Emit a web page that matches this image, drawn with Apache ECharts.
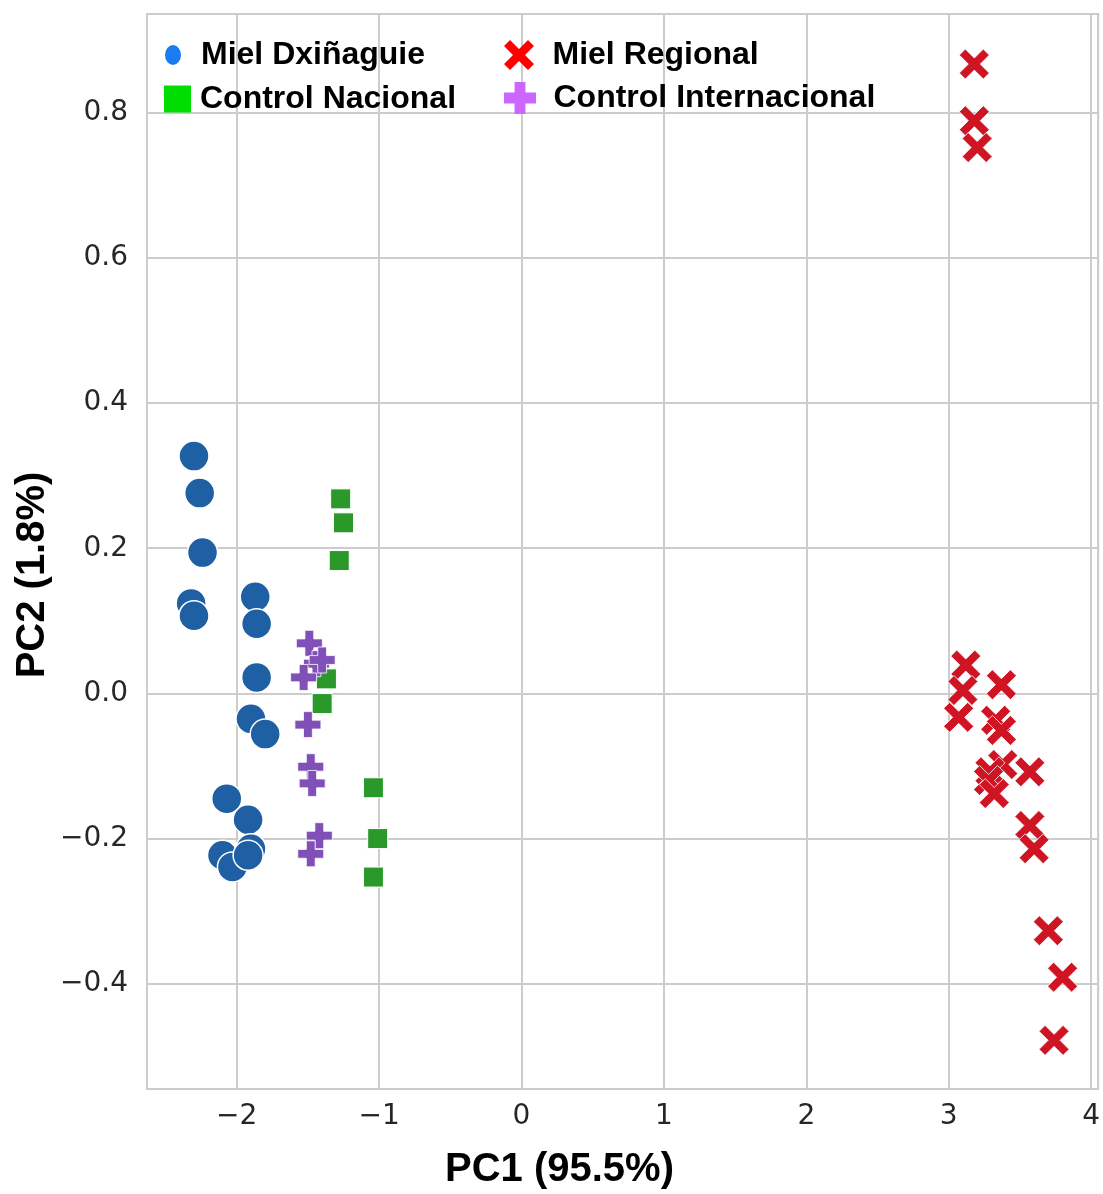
<!DOCTYPE html>
<html>
<head>
<meta charset="utf-8">
<script src="https://cdn.jsdelivr.net/npm/echarts@6/dist/echarts.min.js"></script>
<style>html,body{margin:0;padding:0;background:#fff;overflow:hidden;}#chart{width:1103px;height:1194px;}</style>
</head>
<body>
<div id="chart"></div>
<script>
const seriesNames = ['Miel Dxiñaguie', 'Control Nacional', 'Miel Regional', 'Control Internacional'];
const xAxisTitle = 'PC1 (95.5%)';
const yAxisTitle = 'PC2 (1.8%)';

const dxiX = [-2.30, -2.26, -2.24, -2.32, -2.30, -1.87, -1.86, -1.86, -1.90, -1.80, -2.07, -1.92, -2.10, -2.03, -1.90, -1.92];
const dxiY = [0.327, 0.276, 0.194, 0.124, 0.107, 0.133, 0.096, 0.022, -0.035, -0.056, -0.145, -0.174, -0.223, -0.239, -0.214, -0.223];

const nacX = [-1.27, -1.25, -1.28, -1.37, -1.40, -1.04, -1.01, -1.04];
const nacY = [0.268, 0.235, 0.183, 0.020, -0.014, -0.130, -0.200, -0.253];

const regX = [3.18, 3.18, 3.20, 3.12, 3.10, 3.07, 3.37, 3.33, 3.37, 3.38, 3.29, 3.28, 3.32, 3.57, 3.57, 3.60, 3.70, 3.80, 3.74];
const regY = [0.867, 0.789, 0.752, 0.039, 0.004, -0.033, 0.012, -0.037, -0.051, -0.098, -0.108, -0.120, -0.138, -0.108, -0.182, -0.214, -0.327, -0.391, -0.478];

const intX = [-1.49, -1.44, -1.40, -1.53, -1.50, -1.48, -1.47, -1.42, -1.48];
const intY = [0.069, 0.041, 0.046, 0.022, -0.043, -0.101, -0.124, -0.196, -0.221];

const zip = (xs, ys) => xs.map((x, i) => [x, ys[i]]);

const PLUS = 'path://M0.33,0H0.67V0.33H1V0.67H0.67V1H0.33V0.67H0V0.33H0.33Z';
const CROSS = 'path://M0,0.2L0.2,0L0.5,0.3L0.8,0L1,0.2L0.7,0.5L1,0.8L0.8,1L0.5,0.7L0.2,1L0,0.8L0.3,0.5Z';
const ELLIPSE = 'path://M0,10A8,10,0,1,1,16,10A8,10,0,1,1,0,10Z';

const tickFont = { fontFamily: 'DejaVu Sans', fontSize: 28, color: '#262626' };
const minus = v => (v < 0 ? '\u2212' : '');

function legendItem(name, icon, color, left, top, w, h, pad) {
  return {
    show: true, left: left, top: top, padding: 0, orient: 'vertical',
    itemWidth: w, itemHeight: h, selectedMode: false,
    data: [{ name: name, icon: icon, itemStyle: { color: color, borderWidth: 0 } }],
    textStyle: { fontFamily: 'Liberation Sans, Arial, sans-serif', fontWeight: 'bold', fontSize: 32, color: '#000', padding: [0, 0, 0, pad] }
  };
}

const option = {
  backgroundColor: '#fff',
  animation: false,
  grid: { left: 147, top: 14, right: 0, bottom: 105, show: true, borderColor: '#cccccc', borderWidth: 2, backgroundColor: 'transparent' },
  xAxis: {
    type: 'value', min: -2.63, max: 4.05, splitNumber: 6,
    axisLine: { show: false }, axisTick: { show: false },
    splitLine: { show: true, lineStyle: { color: '#cccccc', width: 2 } },
    axisLabel: Object.assign({ margin: 14, formatter: v => Math.abs(v - Math.round(v)) < 1e-6 ? minus(v) + Math.abs(Math.round(v)) : '' }, tickFont)
  },
  yAxis: {
    type: 'value', min: -0.545, max: 0.936, splitNumber: 7,
    axisLine: { show: false }, axisTick: { show: false },
    splitLine: { show: true, lineStyle: { color: '#cccccc', width: 2 } },
    axisLabel: Object.assign({ margin: 19, formatter: v => Math.abs(v * 5 - Math.round(v * 5)) < 1e-6 ? minus(v) + Math.abs(v).toFixed(1) : '' }, tickFont)
  },
  legend: [
    legendItem(seriesNames[0], ELLIPSE, '#1a7cf0', 165, 39, 16, 20, 15),
    legendItem(seriesNames[1], 'rect', '#00dd00', 164, 83, 27, 27, 4),
    legendItem(seriesNames[2], CROSS, '#ff0000', 504, 39, 33, 30, 12),
    legendItem(seriesNames[3], PLUS, '#cc66ff', 504, 82, 33, 32, 12)
  ],
  graphic: [
    { type: 'text', left: 445, top: 1150, style: { text: xAxisTitle, font: 'bold 40px "Liberation Sans", Arial, sans-serif', fill: '#000' } },
    { type: 'text', style: { text: yAxisTitle, font: 'bold 40px "Liberation Sans", Arial, sans-serif', fill: '#000', align: 'center', verticalAlign: 'middle' }, x: 33, y: 575, rotation: Math.PI / 2 }
  ],
  series: [
    { name: seriesNames[0], type: 'scatter', data: zip(dxiX, dxiY), symbol: 'circle', symbolSize: 30,
      itemStyle: { color: '#1f5fa3', borderColor: '#fff', borderWidth: 1.5, opacity: 1 } },
    { name: seriesNames[1], type: 'scatter', data: zip(nacX, nacY), symbol: 'rect', symbolSize: 20,
      itemStyle: { color: '#2a992a', borderColor: '#fff', borderWidth: 1, opacity: 1 } },
    { name: seriesNames[2], type: 'scatter', data: zip(regX, regY), symbol: CROSS, symbolSize: 30,
      itemStyle: { color: '#cf1424', borderColor: '#fff', borderWidth: 0.8, opacity: 1 } },
    { name: seriesNames[3], type: 'scatter', data: zip(intX, intY), symbol: PLUS, symbolSize: 26,
      itemStyle: { color: '#8050b8', borderColor: '#fff', borderWidth: 0.8, opacity: 1 } }
  ]
};

const chart = echarts.init(document.getElementById('chart'), null, { renderer: 'canvas' });
chart.setOption(option);
</script>
</body>
</html>
